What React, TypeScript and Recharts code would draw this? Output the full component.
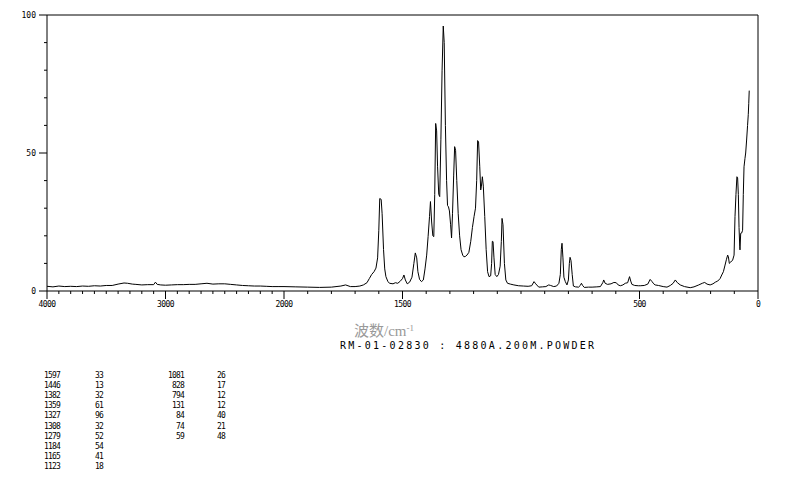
import { LineChart, Line, XAxis, YAxis, ReferenceLine } from 'recharts'

// Raman spectrum. 4000-2000 cm-1 is drawn at half scale.
const HIGH_W = [
  4000, 3950, 3900, 3850, 3800, 3750, 3700, 3650, 3600, 3550,
  3500, 3450, 3400, 3350, 3320, 3280, 3250, 3200, 3150, 3100,
  3085, 3070, 3040, 3000, 2950, 2900, 2850, 2800, 2750, 2700,
  2650, 2600, 2550, 2500, 2450, 2400, 2350, 2300, 2250, 2200,
  2150, 2100, 2050, 2000,
]
const HIGH_I = [
  1.7, 1.5, 1.8, 1.6, 1.7, 1.6, 1.8, 1.7, 1.9, 1.8,
  2.0, 2.0, 2.5, 2.9, 2.8, 2.5, 2.4, 2.2, 2.3, 2.3,
  3.2, 2.4, 2.2, 2.1, 2.2, 2.3, 2.3, 2.4, 2.4, 2.6,
  2.8, 2.5, 2.6, 2.6, 2.4, 2.2, 2.0, 1.9, 1.8, 1.8,
  1.7, 1.6, 1.6, 1.6,
]

const MID_W = [
  1950, 1900, 1850, 1800, 1760, 1740, 1720, 1700, 1680, 1665,
  1650, 1640, 1630, 1620, 1612, 1605, 1600, 1596, 1590, 1586,
  1580, 1575, 1570, 1562, 1555, 1540, 1530, 1520, 1510, 1500,
  1494, 1488, 1480, 1470, 1460, 1452, 1446, 1440, 1435, 1428,
  1420, 1412, 1405, 1398, 1392, 1386, 1382, 1377, 1372, 1368,
  1364, 1360, 1356, 1352, 1347, 1343, 1338, 1333, 1328, 1324,
  1319, 1314, 1310, 1306, 1302, 1297, 1293, 1289, 1284, 1280,
  1276, 1271, 1265, 1259, 1253, 1246, 1241, 1235, 1228, 1220,
  1212, 1205, 1198, 1192, 1187, 1183, 1179, 1174, 1170, 1167,
  1163, 1159, 1153, 1147, 1141, 1135, 1128, 1124, 1121, 1118,
  1114, 1109, 1102, 1095, 1088, 1083, 1080, 1076, 1070, 1064,
]
const MID_I = [
  1.5, 1.4, 1.3, 1.4, 1.8, 2.2, 1.6, 1.6, 1.8, 2.2,
  3.0, 4.5, 6.0, 7.0, 8.3, 12, 22, 33.5, 33.2, 28,
  15, 8, 5.2, 3.5, 2.8, 2.6, 3.0, 2.8, 3.5, 4.5,
  5.8, 4.0, 2.6, 3.2, 5, 10, 13.8, 12, 7, 4.2,
  3.4, 4, 8, 13, 19.7, 27, 32.4, 25, 20, 19.7,
  35, 60.7, 58, 45, 35, 34.2, 55, 80, 96, 90,
  60, 40, 31, 30.5, 29, 24, 19.2, 28, 42, 52.3,
  51, 40, 28, 20, 15, 13, 12.4, 12.5, 13, 14,
  18, 23, 27, 30, 40, 54.5, 54, 45, 36.6, 38,
  41.4, 38, 27, 15, 7, 5.2, 5.5, 10, 18, 17.9,
  12, 6, 5.2, 6, 9, 18, 26.3, 24, 10, 4,
]

const LOW_W = [
  1057, 1045, 1030, 1010, 990, 970, 955, 945, 938, 925,
  910, 895, 883, 875, 862, 850, 840, 834, 830, 827,
  823, 819, 813, 806, 800, 796, 793, 789, 784, 779,
  770, 757, 750, 745, 740, 733, 715, 700, 680, 665,
  655, 651, 645, 635, 620, 608, 598, 590, 581, 570,
  560, 550, 542, 537, 532, 520, 505, 497, 480, 465,
  455, 448, 440, 434, 420, 400, 384, 370, 358, 349,
  340, 328, 310, 286, 270, 250, 235, 225, 215, 202,
  190, 180, 170, 160, 153, 146, 139, 133, 128, 125,
  121, 115, 107, 101, 97, 93, 89, 86, 83, 80,
  77, 76, 73, 69, 65, 62, 59, 55, 52, 48,
  44, 41, 39, 37,
]
const LOW_I = [
  2.8, 2.5, 2.2, 1.9, 1.8, 1.7, 1.9, 3.4, 2.6, 1.4,
  1.5, 1.6, 2.2, 2.0, 1.6, 1.8, 2.8, 6, 15, 17.3,
  12, 5, 3.4, 2.2, 4, 10, 12.2, 11, 6, 1.8,
  1.5, 1.4, 2.0, 2.8, 2.0, 1.3, 1.4, 1.4, 1.5, 1.6,
  3, 4.0, 2.8, 2.4, 2.6, 3.1, 3.0, 2.2, 1.9, 2.2,
  2.8, 3.0, 5.2, 3.6, 2.4, 2.0, 1.9, 1.9, 2.0, 2.5,
  4.2, 3.5, 2.6, 2.2, 2.0, 1.6, 1.4, 2.0, 2.8, 4.0,
  3.0, 2.2, 1.6, 1.2, 1.5, 2.2, 2.8, 3.1, 2.5, 2.2,
  2.6, 3.2, 3.6, 4.5, 5.8, 7, 9.4, 11.5, 13, 12.4,
  10, 10.5, 11.2, 13, 27, 35, 41.4, 41, 35, 23,
  16, 14.9, 20.9, 21, 22, 35, 45, 48, 50, 54.7,
  60, 64, 68, 72.6,
]

const X_LABELS = [4000, 3000, 2000, 1500, 500, 0]
const Y_LABELS = [0, 50, 100]

const PEAK_W1 = [1597, 1446, 1382, 1359, 1327, 1308, 1279, 1184, 1165, 1123]
const PEAK_I1 = [33, 13, 32, 61, 96, 32, 52, 54, 41, 18]
const PEAK_W2 = [1081, 828, 794, 131, 84, 74, 59]
const PEAK_I2 = [26, 17, 12, 12, 40, 21, 48]

// half scale above 2000 cm-1
const squash = (w: number) => (w <= 2000 ? w : 2000 + (w - 2000) / 2)
const unsquash = (u: number) => (u <= 2000 ? u : 2000 + (u - 2000) * 2)

const allW = [...HIGH_W, ...MID_W, ...LOW_W]
const allI = [...HIGH_I, ...MID_I, ...LOW_I]
const data = allW.map((w, i) => ({ u: squash(w), I: allI[i] }))

const xTicks: number[] = []
for (let w = 0; w <= 4000; w += 100) xTicks.push(squash(w))
const yTicks: number[] = []
for (let v = 0; v <= 100; v += 10) yTicks.push(v)

const PIX = '"DejaVu Sans Mono", monospace'

function XTick({ x, y, payload }: any) {
  const w = Math.round(unsquash(payload.value))
  const major = X_LABELS.includes(w)
  return (
    <g>
      <line x1={x} x2={x} y1={y} y2={y + (major ? 8 : 3)} stroke="#000" />
      {major && (
        <text x={x} y={y + 13} textAnchor="middle" dominantBaseline="central"
          fontFamily={PIX} fontSize={8} letterSpacing={-0.6} fill="#000">
          {w}
        </text>
      )}
    </g>
  )
}

function YTick({ x, y, payload }: any) {
  const v = payload.value
  const major = Y_LABELS.includes(v)
  return (
    <g>
      <line x1={x - (major ? 8 : 3)} x2={x} y1={y} y2={y} stroke="#000" />
      {major && (
        <text x={x - 11} y={y} textAnchor="end" dominantBaseline="central"
          fontFamily={PIX} fontSize={8} fill="#000">
          {v}
        </text>
      )}
    </g>
  )
}

const small = { position: 'absolute' as const, fontFamily: PIX, fontSize: 8, letterSpacing: -0.8, lineHeight: '10px', color: '#000' }

export default function App() {
  return (
    <div style={{ position: 'absolute', left: 0, top: 0, width: 794, height: 482, background: '#fff', overflow: 'hidden' }}>
      <LineChart width={794} height={482} data={data} margin={{ top: 15, right: 36, left: 0, bottom: 0 }}>
        <XAxis dataKey="u" type="number" domain={[0, 3000]} reversed ticks={xTicks} interval={0}
          height={191} tick={<XTick />} tickLine={false} tickSize={0} tickMargin={0}
          axisLine={{ stroke: '#000' }} />
        <YAxis type="number" domain={[0, 100]} ticks={yTicks} interval={0} width={47}
          tick={<YTick />} tickLine={false} tickSize={0} tickMargin={0}
          axisLine={{ stroke: '#000' }} />
        <ReferenceLine y={100} stroke="#000" />
        <ReferenceLine x={0} stroke="#000" />
        <Line type="linear" dataKey="I" stroke="#000" strokeWidth={1} dot={false} isAnimationActive={false} />
      </LineChart>

      <div style={{ position: 'absolute', left: 354, top: 322, height: 16, fontSize: 15, color: '#999', lineHeight: '16px', whiteSpace: 'nowrap' }}>
        <span style={{ fontFamily: '"Noto Sans CJK SC"' }}>波数</span>
        <span style={{ fontFamily: '"Liberation Serif", serif' }}>/cm</span>
        <span style={{ fontFamily: '"Liberation Serif", serif', fontSize: 9, position: 'relative', top: -5 }}>-1</span>
      </div>
      <div style={{ position: 'absolute', left: 340, top: 340, fontFamily: PIX, fontSize: 10, letterSpacing: 2.25, lineHeight: '12px', whiteSpace: 'nowrap', color: '#000' }}>
        RM-01-02830 : 4880A.200M.POWDER
      </div>

      {PEAK_W1.map((w, i) => (
        <div key={'a' + i}>
          <div style={{ ...small, left: 20, width: 40, textAlign: 'right', top: 371 + i * 10.1 }}>{w}</div>
          <div style={{ ...small, left: 95, top: 371 + i * 10.1 }}>{PEAK_I1[i]}</div>
        </div>
      ))}
      {PEAK_W2.map((w, i) => (
        <div key={'b' + i}>
          <div style={{ ...small, left: 144, width: 40, textAlign: 'right', top: 371 + i * 10.1 }}>{w}</div>
          <div style={{ ...small, left: 217, top: 371 + i * 10.1 }}>{PEAK_I2[i]}</div>
        </div>
      ))}
    </div>
  )
}
